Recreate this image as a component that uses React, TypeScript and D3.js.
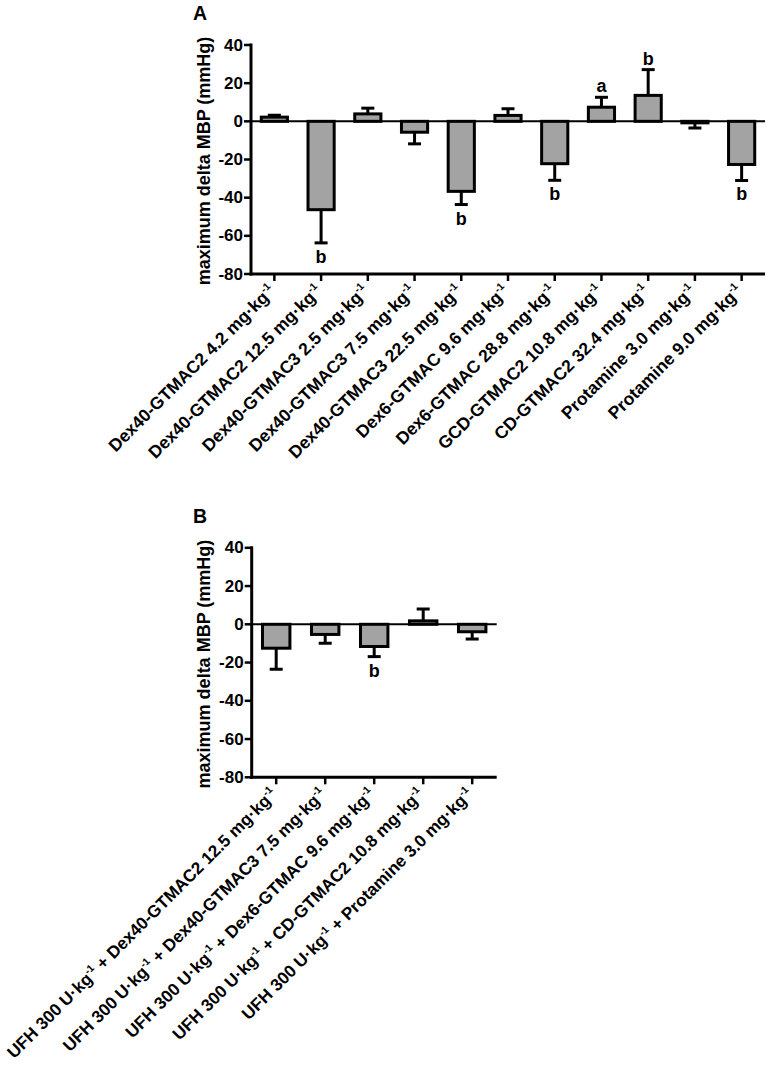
import React from "react";
import * as d3 from "d3";

// ---------- DATA ----------
const labelsA = [
  "Dex40-GTMAC2 4.2 mg·kg{-1}",
  "Dex40-GTMAC2 12.5 mg·kg{-1}",
  "Dex40-GTMAC3 2.5 mg·kg{-1}",
  "Dex40-GTMAC3 7.5 mg·kg{-1}",
  "Dex40-GTMAC3 22.5 mg·kg{-1}",
  "Dex6-GTMAC 9.6 mg·kg{-1}",
  "Dex6-GTMAC 28.8 mg·kg{-1}",
  "GCD-GTMAC2 10.8 mg·kg{-1}",
  "CD-GTMAC2 32.4 mg·kg{-1}",
  "Protamine 3.0 mg·kg{-1}",
  "Protamine 9.0 mg·kg{-1}",
];
const valuesA = [2.2, -46.3, 3.9, -5.7, -36.7, 3.1, -22.2, 7.4, 13.6, -0.8, -22.6];
const errorsA = [1.0, 17.4, 3.0, 6.1, 6.9, 3.5, 8.7, 5.2, 13.5, 2.7, 8.4];
const marksA = ["", "b", "", "", "b", "", "b", "a", "b", "", "b"];

const labelsB = [
  "UFH 300 U·kg{-1} + Dex40-GTMAC2 12.5 mg·kg{-1}",
  "UFH 300 U·kg{-1} + Dex40-GTMAC3 7.5 mg·kg{-1}",
  "UFH 300 U·kg{-1} + Dex6-GTMAC 9.6 mg·kg{-1}",
  "UFH 300 U·kg{-1} + CD-GTMAC2 10.8 mg·kg{-1}",
  "UFH 300 U·kg{-1} + Protamine 3.0 mg·kg{-1}",
];
const valuesB = [-12.5, -5.3, -11.6, 1.8, -3.9];
const errorsB = [11.0, 4.6, 5.3, 6.2, 3.8];
const marksB = ["", "", "b", "", ""];

const yTicks = [40, 20, 0, -20, -40, -60, -80];
const yTitle = "maximum delta MBP (mmHg)";

// ---------- STYLE ----------
const FONT = "'Liberation Sans', Arial, Helvetica, sans-serif";
const BAR_FILL = "#a3a3a3";

function parseLabel(s: string) {
  const parts: { t: string; sup: boolean }[] = [];
  const re = /\{([^}]*)\}/g;
  let last = 0;
  let m: RegExpExecArray | null;
  while ((m = re.exec(s))) {
    if (m.index > last) parts.push({ t: s.slice(last, m.index), sup: false });
    parts.push({ t: m[1], sup: true });
    last = m.index + m[0].length;
  }
  if (last < s.length) parts.push({ t: s.slice(last), sup: false });
  return parts;
}

function Label({ text, fontSize }: { text: string; fontSize: number }) {
  const parts = parseLabel(text);
  const out: React.ReactNode[] = [];
  let shifted = false;
  parts.forEach((p, i) => {
    if (p.sup) {
      out.push(
        <tspan key={i} fontSize={fontSize * 0.6} dy={-fontSize * 0.42}>
          {p.t}
        </tspan>
      );
      shifted = true;
    } else {
      out.push(
        <tspan key={i} dy={shifted ? fontSize * 0.42 : 0}>
          {p.t}
        </tspan>
      );
      shifted = false;
    }
  });
  return <>{out}</>;
}

type PanelProps = {
  letter: string;
  labels: string[];
  values: number[];
  errors: number[];
  marks: string[];
  x0: number;
  x1: number;
  yTop: number;
  yBottom: number;
  labFont: number;
};

function Panel({ letter, labels, values, errors, marks, x0, x1, yTop, yBottom, labFont }: PanelProps) {
  const y = d3.scaleLinear().domain([-80, 40]).range([yBottom, yTop]);
  const x = d3
    .scaleBand<number>()
    .domain(labels.map((_, i) => i))
    .range([x0, x1])
    .paddingInner(0.44)
    .paddingOuter(0.22);
  const bw = x.bandwidth();
  const capW = 13;
  const tickFont = 17;
  const y0 = y(0);
  return (
    <g>
      <text x={193} y={yTop - 25} fontFamily={FONT} fontWeight="bold" fontSize={19.5}>
        {letter}
      </text>
      {/* y title */}
      <text
        transform={`translate(210,${(yTop + yBottom) / 2 + 1.5}) rotate(-90)`}
        textAnchor="middle"
        fontFamily={FONT}
        fontWeight="bold"
        fontSize={18}
      >
        {yTitle}
      </text>
      {/* zero line */}
      <line x1={x0} x2={x1} y1={y0} y2={y0} stroke="#000" strokeWidth={2} />
      {/* bars */}
      {values.map((v, i) => {
        const bx = x(i)!;
        const top = Math.min(y(v), y0);
        const h = Math.abs(y(v) - y0);
        return (
          <rect
            key={"b" + i}
            x={bx}
            y={top}
            width={bw}
            height={h}
            fill={BAR_FILL}
            stroke="#000"
            strokeWidth={3}
          />
        );
      })}
      {/* error bars */}
      {values.map((v, i) => {
        const cx = x(i)! + bw / 2;
        const end = v >= 0 ? v + errors[i] : v - errors[i];
        return (
          <g key={"e" + i} stroke="#000" strokeWidth={3}>
            <line x1={cx} x2={cx} y1={y(v)} y2={y(end)} />
            <line x1={cx - capW / 2} x2={cx + capW / 2} y1={y(end)} y2={y(end)} />
          </g>
        );
      })}
      {/* significance marks */}
      {values.map((v, i) => {
        if (!marks[i]) return null;
        const cx = x(i)! + bw / 2;
        const end = v >= 0 ? v + errors[i] : v - errors[i];
        const ty = v >= 0 ? y(end) - 5 : y(end) + 20;
        return (
          <text
            key={"m" + i}
            x={cx}
            y={ty}
            textAnchor="middle"
            fontFamily={FONT}
            fontWeight="bold"
            fontSize={18}
          >
            {marks[i]}
          </text>
        );
      })}
      {/* y axis */}
      <line x1={x0} x2={x0} y1={yTop - 1.5} y2={yBottom + 1.5} stroke="#000" strokeWidth={3} />
      {yTicks.map((t) => (
        <g key={"yt" + t}>
          <line x1={x0 - 7} x2={x0} y1={y(t)} y2={y(t)} stroke="#000" strokeWidth={2.5} />
          <text
            x={x0 - 8}
            y={y(t)}
            textAnchor="end"
            dominantBaseline="central"
            fontFamily={FONT}
            fontWeight="bold"
            fontSize={tickFont}
          >
            {t}
          </text>
        </g>
      ))}
      {/* x axis */}
      <line x1={x0 - 1.5} x2={x1} y1={yBottom} y2={yBottom} stroke="#000" strokeWidth={3} />
      {labels.map((lab, i) => {
        const cx = x(i)! + bw / 2;
        return (
          <g key={"xt" + i}>
            <line x1={cx} x2={cx} y1={yBottom} y2={yBottom + 7} stroke="#000" strokeWidth={2.5} />
            <text
              transform={`translate(${cx + 2},${yBottom + 18}) rotate(-45)`}
              textAnchor="end"
              fontFamily={FONT}
              fontWeight="bold"
              fontSize={labFont}
            >
              <Label text={lab} fontSize={labFont} />
            </text>
          </g>
        );
      })}
    </g>
  );
}

export default function App() {
  return (
    <svg
      width={768}
      height={1067}
      style={{ position: "absolute", left: 0, top: 0, background: "#fff" }}
    >
      <rect x={0} y={0} width={768} height={1067} fill="#fff" />
      <Panel
        letter="A"
        labels={labelsA}
        values={valuesA}
        errors={errorsA}
        marks={marksA}
        x0={251}
        x1={765}
        yTop={45}
        yBottom={274}
        labFont={17.5}
      />
      <Panel
        letter="B"
        labels={labelsB}
        values={valuesB}
        errors={errorsB}
        marks={marksB}
        x0={251.7}
        x1={496.7}
        yTop={547.8}
        yBottom={777.3}
        labFont={17.2}
      />
    </svg>
  );
}
